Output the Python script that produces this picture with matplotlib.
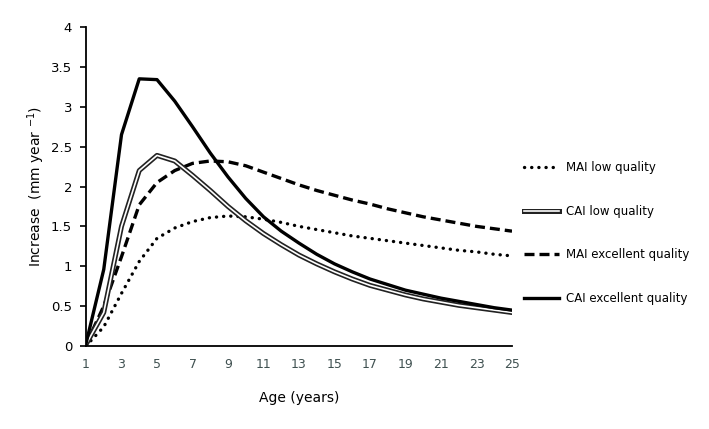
import numpy as np
import matplotlib
matplotlib.use("Agg")
import matplotlib.pyplot as plt
from matplotlib.lines import Line2D
from matplotlib.legend_handler import HandlerTuple
from matplotlib.ticker import FormatStrFormatter

# age in years
age = list(range(1, 26))

# mean annual increment / current annual increment (mm per year)
mai_low = [0.00, 0.24, 0.66, 1.06, 1.35, 1.48, 1.56, 1.61, 1.63, 1.62, 1.59, 1.55, 1.50,
           1.46, 1.42, 1.38, 1.35, 1.32, 1.29, 1.26, 1.23, 1.20, 1.18, 1.15, 1.13]
cai_low = [0.02, 0.42, 1.50, 2.20, 2.39, 2.32, 2.14, 1.95, 1.75, 1.57, 1.41, 1.27, 1.14,
           1.03, 0.93, 0.84, 0.76, 0.70, 0.64, 0.59, 0.55, 0.51, 0.48, 0.45, 0.42]
mai_exc = [0.02, 0.50, 1.12, 1.77, 2.05, 2.20, 2.29, 2.32, 2.31, 2.26, 2.18, 2.10, 2.02,
           1.95, 1.89, 1.83, 1.78, 1.72, 1.67, 1.62, 1.58, 1.54, 1.50, 1.47, 1.44]
cai_exc = [0.03, 0.96, 2.65, 3.35, 3.34, 3.07, 2.75, 2.42, 2.12, 1.85, 1.62, 1.44, 1.29,
           1.15, 1.03, 0.93, 0.84, 0.77, 0.70, 0.65, 0.60, 0.56, 0.52, 0.48, 0.45]

labels = ["MAI low quality", "CAI low quality", "MAI excellent quality", "CAI excellent quality"]

fig = plt.figure(figsize=(7.09, 4.29), dpi=100)
ax = fig.add_axes([86 / 709, 83 / 429, 426 / 709, 319 / 429])

dotted = dict(color="black", lw=2.4, linestyle=(0, (0.05, 2.1)), dash_capstyle="round")
dashed = dict(color="black", lw=2.4, linestyle=(0, (3.0, 1.5)))
solid = dict(color="black", lw=2.4)
outer = dict(color="#222222", lw=3.6)
inner = dict(color="white", lw=1.2)

ax.plot(age, mai_low, **dotted)
ax.plot(age, mai_exc, **dashed)
ax.plot(age, cai_low, **outer)
ax.plot(age, cai_low, **inner)
ax.plot(age, cai_exc, **solid)

ax.set_xlim(1, 25)
ax.set_ylim(0, 4)
ax.set_xticks(range(1, 26, 2))
ax.set_yticks(np.arange(0, 4.01, 0.5))
ax.yaxis.set_major_formatter(FormatStrFormatter("%g"))

for s in ["top", "right"]:
    ax.spines[s].set_visible(False)
for s in ["left", "bottom"]:
    ax.spines[s].set_linewidth(1.3)

ax.tick_params(axis="x", length=0, pad=9, labelsize=9, labelcolor="#3f5050")
ax.tick_params(axis="y", length=4, width=1.2, pad=6, labelsize=9.5)

ax.set_xlabel("Age (years)", fontsize=10, labelpad=14)
ax.set_ylabel("Increase  (mm year $^{-1}$)", fontsize=10, labelpad=3)

handles = [
    Line2D([], [], **dotted),
    (Line2D([], [], **outer), Line2D([], [], **inner)),
    Line2D([], [], **dashed),
    Line2D([], [], **solid),
]
fig.legend(handles, labels, loc="upper left", bbox_to_anchor=(524 / 709, 1 - 161 / 429),
           frameon=False, fontsize=8.5, handlelength=3.0, handletextpad=0.6,
           labelspacing=2.6, borderpad=0, borderaxespad=0,
           handler_map={tuple: HandlerTuple(ndivide=1)})

fig.savefig("out.png", dpi=100)
